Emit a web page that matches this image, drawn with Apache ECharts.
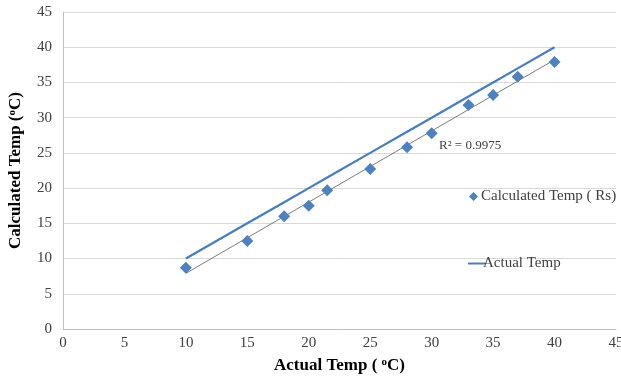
<!DOCTYPE html>
<html>
<head>
<meta charset="utf-8">
<script src="https://cdn.jsdelivr.net/npm/echarts@6/dist/echarts.min.js"></script>
<style>
  html, body { margin: 0; padding: 0; background: #fff; }
  #chart { width: 621px; height: 382px; }
</style>
</head>
<body>
<div id="chart"></div>
<script>
// values
const actualTemp = [10, 15, 18, 20, 21.5, 25, 28, 30, 33, 35, 37, 40];
const calculatedTemp = [8.7, 12.5, 16.0, 17.5, 19.7, 22.7, 25.8, 27.8, 31.8, 33.2, 35.8, 37.9];
const idealTemp = [10, 15, 18, 20, 21.5, 25, 28, 30, 33, 35, 37, 40];
const rSquaredText = "R² = 0.9975";

const serif = '"Liberation Serif", "DejaVu Serif", serif';

// linear trendline through the calculated points
const n = actualTemp.length;
const mx = actualTemp.reduce((a, b) => a + b, 0) / n;
const my = calculatedTemp.reduce((a, b) => a + b, 0) / n;
let sxy = 0, sxx = 0;
actualTemp.forEach((x, i) => {
  sxy += (x - mx) * (calculatedTemp[i] - my);
  sxx += (x - mx) * (x - mx);
});
const slope = sxy / sxx;
const icpt = my - slope * mx;
const xMin = actualTemp[0];
const xMax = actualTemp[n - 1];
const trend = [[xMin, icpt + slope * xMin], [xMax, icpt + slope * xMax]];

const supStyle = { fontSize: 11, fontWeight: "bold", fontFamily: serif, verticalAlign: "top", padding: [0, 0, 6, 0] };

const chart = echarts.init(document.getElementById("chart"));

chart.setOption({
  animation: false,
  grid: { left: 63, right: 5, top: 12, bottom: 53, outerBoundsMode: "none", containLabel: false },
  xAxis: {
    type: "value",
    min: 0,
    max: 45,
    interval: 5,
    name: "Actual Temp ( {s|o}C)",
    nameLocation: "middle",
    nameGap: 28,
    nameTextStyle: {
      fontFamily: serif,
      fontWeight: "bold",
      fontSize: 17,
      color: "#000",
      rich: { s: supStyle }
    },
    axisLine: { show: true, lineStyle: { color: "#bfbfbf" } },
    axisTick: { show: false },
    splitLine: { show: false },
    axisLabel: { fontFamily: serif, fontSize: 15, color: "#404040", margin: 7 }
  },
  yAxis: {
    type: "value",
    min: 0,
    max: 45,
    interval: 5,
    name: "Calculated Temp ({s|o}C)",
    nameLocation: "middle",
    nameGap: 39,
    nameTextStyle: {
      fontFamily: serif,
      fontWeight: "bold",
      fontSize: 17,
      color: "#000",
      rich: { s: supStyle }
    },
    axisLine: { show: true, lineStyle: { color: "#bfbfbf" } },
    axisTick: { show: false },
    splitLine: { show: true, lineStyle: { color: "#d9d9d9", width: 1 } },
    axisLabel: { fontFamily: serif, fontSize: 15, color: "#404040", margin: 11 }
  },
  legend: [
    {
      data: [{ name: "Calculated Temp ( Rs)", icon: "diamond" }],
      left: 464,
      top: 184,
      itemWidth: 9,
      itemHeight: 9,
      itemGap: 0,
      textStyle: { fontFamily: serif, fontSize: 15, color: "#404040", padding: [0, 0, 0, -2] }
    },
    {
      data: [{ name: "Actual Temp", icon: "rect" }],
      left: 463,
      top: 251,
      itemWidth: 18,
      itemHeight: 2,
      textStyle: { fontFamily: serif, fontSize: 15, color: "#404040", padding: [0, 0, 0, -8] }
    }
  ],
  graphic: [
    {
      type: "text",
      left: 439,
      top: 139,
      style: { text: rSquaredText, font: "13px " + serif, fill: "#404040" }
    }
  ],
  series: [
    {
      name: "Actual Temp",
      type: "line",
      data: actualTemp.map((x, i) => [x, idealTemp[i]]),
      symbol: "none",
      lineStyle: { color: "#4a7ebb", width: 2.25 },
      itemStyle: { color: "#4a7ebb" },
      z: 2
    },
    {
      name: "trend",
      type: "line",
      data: trend,
      symbol: "none",
      lineStyle: { color: "#595959", width: 0.8 },
      silent: true,
      z: 3
    },
    {
      name: "Calculated Temp ( Rs)",
      type: "scatter",
      data: actualTemp.map((x, i) => [x, calculatedTemp[i]]),
      symbol: "diamond",
      symbolSize: 12,
      itemStyle: { color: "#4f81bd", opacity: 1 },
      z: 4
    }
  ]
});
</script>
</body>
</html>
